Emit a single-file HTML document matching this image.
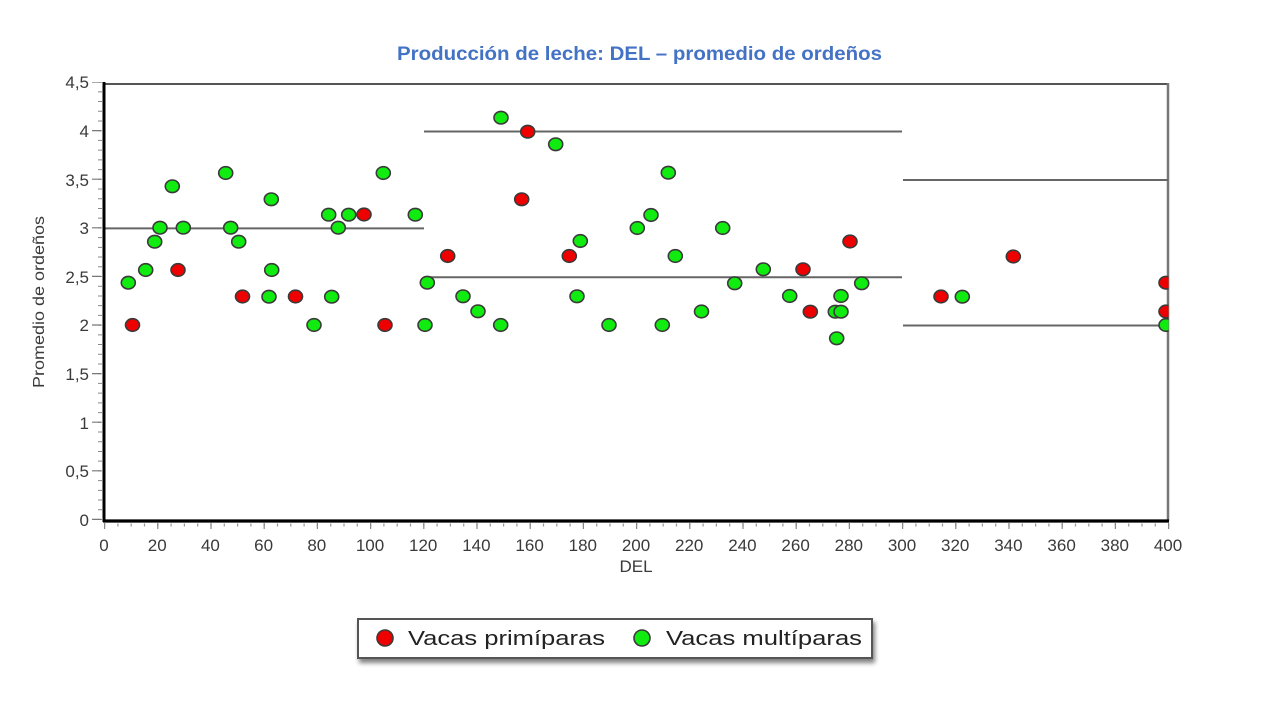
<!DOCTYPE html>
<html>
<head>
<meta charset="utf-8">
<style>
html,body{margin:0;padding:0;background:#fff;}
svg{display:block;}
</style>
</head>
<body>
<svg width="1280" height="720" viewBox="0 0 1280 720" xmlns="http://www.w3.org/2000/svg">
<defs>
<clipPath id="pa"><rect x="104" y="80" width="1064.5" height="442"/></clipPath>
<filter id="sh" x="-5%" y="-30%" width="110%" height="180%">
<feGaussianBlur in="SourceAlpha" stdDeviation="2.5"/>
<feOffset dx="2" dy="4" result="o"/>
<feComponentTransfer><feFuncA type="linear" slope="0.5"/></feComponentTransfer>
<feMerge><feMergeNode/><feMergeNode in="SourceGraphic"/></feMerge>
</filter>
</defs>
<rect width="1280" height="720" fill="#fff"/>

<text x="397" y="60" font-family="Liberation Sans, sans-serif" font-weight="bold" font-size="19" fill="#4472C4" textLength="485" lengthAdjust="spacingAndGlyphs">Producción de leche: DEL – promedio de ordeños</text>

<line x1="104" y1="84" x2="1168" y2="84" stroke="#555" stroke-width="2"/>
<line x1="1168" y1="83" x2="1168" y2="521" stroke="#777" stroke-width="2.5"/>

<line x1="100" y1="520" x2="100" y2="82" stroke="#888" stroke-width="4" stroke-dasharray="1 8.72"/>
<line x1="96.5" y1="520" x2="96.5" y2="82" stroke="#777" stroke-width="9" stroke-dasharray="1.2 47.4"/>
<line x1="104" y1="525" x2="1170" y2="525" stroke="#999" stroke-width="3" stroke-dasharray="1.2 12.1"/>
<line x1="104" y1="526" x2="1170" y2="526" stroke="#888" stroke-width="6" stroke-dasharray="1.2 52"/>

<g stroke="#666" stroke-width="2">
<line x1="104" y1="228.4" x2="424" y2="228.4"/>
<line x1="424" y1="131.5" x2="902" y2="131.5"/>
<line x1="424" y1="277.3" x2="902" y2="277.3"/>
<line x1="903" y1="180" x2="1168" y2="180"/>
<line x1="903" y1="325.5" x2="1168" y2="325.5"/>
</g>

<g clip-path="url(#pa)" stroke="#3a3a3a" stroke-width="1.6">
<g fill="#10ec10">
<ellipse cx="128.3" cy="282.7" rx="7" ry="6.3"/>
<ellipse cx="145.7" cy="270" rx="7" ry="6.3"/>
<ellipse cx="154.7" cy="241.7" rx="7" ry="6.3"/>
<ellipse cx="160" cy="227.7" rx="7" ry="6.3"/>
<ellipse cx="172.3" cy="186.3" rx="7" ry="6.3"/>
<ellipse cx="183.3" cy="227.7" rx="7" ry="6.3"/>
<ellipse cx="225.7" cy="173" rx="7" ry="6.3"/>
<ellipse cx="230.7" cy="227.7" rx="7" ry="6.3"/>
<ellipse cx="238.7" cy="241.7" rx="7" ry="6.3"/>
<ellipse cx="269" cy="296.7" rx="7" ry="6.3"/>
<ellipse cx="271.3" cy="199.3" rx="7" ry="6.3"/>
<ellipse cx="271.7" cy="270" rx="7" ry="6.3"/>
<ellipse cx="314" cy="325" rx="7" ry="6.3"/>
<ellipse cx="328.7" cy="214.7" rx="7" ry="6.3"/>
<ellipse cx="331.7" cy="296.7" rx="7" ry="6.3"/>
<ellipse cx="338.3" cy="227.7" rx="7" ry="6.3"/>
<ellipse cx="348.7" cy="214.7" rx="7" ry="6.3"/>
<ellipse cx="383.3" cy="173" rx="7" ry="6.3"/>
<ellipse cx="415.3" cy="214.7" rx="7" ry="6.3"/>
<ellipse cx="427.3" cy="282.7" rx="7" ry="6.3"/>
<ellipse cx="425" cy="325" rx="7" ry="6.3"/>
<ellipse cx="501" cy="117.7" rx="7" ry="6.3"/>
<ellipse cx="555.7" cy="144.3" rx="7" ry="6.3"/>
<ellipse cx="668.3" cy="172.7" rx="7" ry="6.3"/>
<ellipse cx="651" cy="215" rx="7" ry="6.3"/>
<ellipse cx="637.3" cy="228" rx="7" ry="6.3"/>
<ellipse cx="580.3" cy="241" rx="7" ry="6.3"/>
<ellipse cx="675.3" cy="256" rx="7" ry="6.3"/>
<ellipse cx="463" cy="296.3" rx="7" ry="6.3"/>
<ellipse cx="577" cy="296.3" rx="7" ry="6.3"/>
<ellipse cx="478" cy="311.3" rx="7" ry="6.3"/>
<ellipse cx="701.5" cy="311.5" rx="7" ry="6.3"/>
<ellipse cx="500.7" cy="325" rx="7" ry="6.3"/>
<ellipse cx="609" cy="325" rx="7" ry="6.3"/>
<ellipse cx="662.3" cy="325" rx="7" ry="6.3"/>
<ellipse cx="722.7" cy="228" rx="7" ry="6.3"/>
<ellipse cx="763.3" cy="269.3" rx="7" ry="6.3"/>
<ellipse cx="734.7" cy="283.3" rx="7" ry="6.3"/>
<ellipse cx="861.7" cy="283.3" rx="7" ry="6.3"/>
<ellipse cx="789.7" cy="296" rx="7" ry="6.3"/>
<ellipse cx="841" cy="296" rx="7" ry="6.3"/>
<ellipse cx="835.3" cy="311.7" rx="7" ry="6.3"/>
<ellipse cx="841" cy="311.7" rx="7" ry="6.3"/>
<ellipse cx="836.7" cy="338.3" rx="7" ry="6.3"/>
<ellipse cx="962.3" cy="296.7" rx="7" ry="6.3"/>
<ellipse cx="1166" cy="325" rx="7" ry="6.3"/>
</g>
<g fill="#ee0000">
<ellipse cx="132.5" cy="325" rx="7" ry="6.3"/>
<ellipse cx="178" cy="270" rx="7" ry="6.3"/>
<ellipse cx="242.5" cy="296.5" rx="7" ry="6.3"/>
<ellipse cx="295.5" cy="296.5" rx="7" ry="6.3"/>
<ellipse cx="364" cy="214.5" rx="7" ry="6.3"/>
<ellipse cx="385" cy="325" rx="7" ry="6.3"/>
<ellipse cx="447.7" cy="256" rx="7" ry="6.3"/>
<ellipse cx="521.7" cy="199.3" rx="7" ry="6.3"/>
<ellipse cx="527.7" cy="131.7" rx="7" ry="6.3"/>
<ellipse cx="569.3" cy="256" rx="7" ry="6.3"/>
<ellipse cx="803" cy="269.3" rx="7" ry="6.3"/>
<ellipse cx="810.3" cy="311.7" rx="7" ry="6.3"/>
<ellipse cx="850" cy="241.5" rx="7" ry="6.3"/>
<ellipse cx="941" cy="296.5" rx="7" ry="6.3"/>
<ellipse cx="1013.3" cy="256.5" rx="7" ry="6.3"/>
<ellipse cx="1166" cy="282.7" rx="7" ry="6.3"/>
<ellipse cx="1166" cy="311.5" rx="7" ry="6.3"/>
</g>
</g>

<line x1="104" y1="82" x2="104" y2="522" stroke="#000" stroke-width="3"/>
<line x1="103" y1="521" x2="1169" y2="521" stroke="#000" stroke-width="3.2"/>

<g font-family="Liberation Sans, sans-serif" font-size="17" fill="#3a3a3a" text-anchor="end">
<text x="89" y="88">4,5</text>
<text x="89" y="137">4</text>
<text x="89" y="186">3,5</text>
<text x="89" y="234">3</text>
<text x="89" y="283">2,5</text>
<text x="89" y="331">2</text>
<text x="89" y="380">1,5</text>
<text x="89" y="429">1</text>
<text x="89" y="477">0,5</text>
<text x="89" y="526">0</text>
</g>
<g font-family="Liberation Sans, sans-serif" font-size="17" fill="#3a3a3a" text-anchor="middle">
<text x="104" y="551">0</text>
<text x="157.2" y="551">20</text>
<text x="210.4" y="551">40</text>
<text x="263.6" y="551">60</text>
<text x="316.8" y="551">80</text>
<text x="370" y="551">100</text>
<text x="423.2" y="551">120</text>
<text x="476.4" y="551">140</text>
<text x="529.6" y="551">160</text>
<text x="582.8" y="551">180</text>
<text x="636" y="551">200</text>
<text x="689.2" y="551">220</text>
<text x="742.4" y="551">240</text>
<text x="795.6" y="551">260</text>
<text x="848.8" y="551">280</text>
<text x="902" y="551">300</text>
<text x="955.2" y="551">320</text>
<text x="1008.4" y="551">340</text>
<text x="1061.6" y="551">360</text>
<text x="1114.8" y="551">380</text>
<text x="1168" y="551">400</text>
</g>

<text x="636" y="572" font-family="Liberation Sans, sans-serif" font-size="17" fill="#3a3a3a" text-anchor="middle">DEL</text>
<text transform="translate(44,302) rotate(-90)" font-family="Liberation Sans, sans-serif" font-size="16" fill="#3a3a3a" text-anchor="middle" textLength="172" lengthAdjust="spacingAndGlyphs">Promedio de ordeños</text>

<rect x="358" y="619" width="514" height="39" fill="#fff" stroke="#555" stroke-width="2" filter="url(#sh)"/>
<circle cx="385" cy="638" r="8" fill="#ee0000" stroke="#3a3a3a" stroke-width="1.6"/>
<text x="408" y="645" font-family="Liberation Sans, sans-serif" font-size="20" fill="#222" textLength="197" lengthAdjust="spacingAndGlyphs">Vacas primíparas</text>
<circle cx="642" cy="638" r="8" fill="#10ec10" stroke="#3a3a3a" stroke-width="1.6"/>
<text x="666" y="645" font-family="Liberation Sans, sans-serif" font-size="20" fill="#222" textLength="196" lengthAdjust="spacingAndGlyphs">Vacas multíparas</text>
</svg>
</body>
</html>
